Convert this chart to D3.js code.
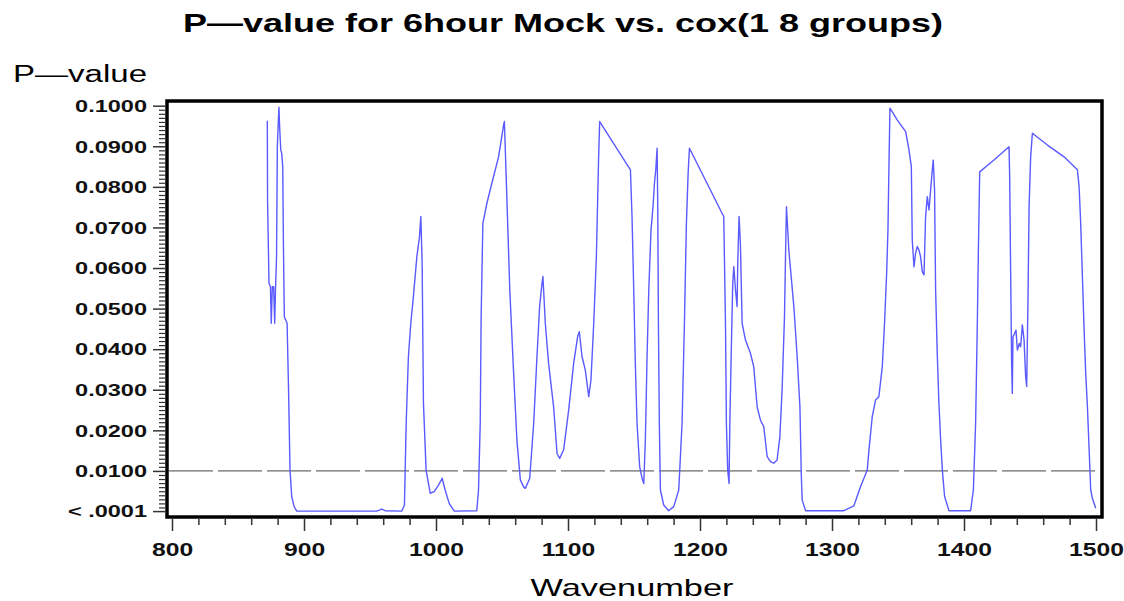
<!DOCTYPE html>
<html>
<head>
<meta charset="utf-8">
<script src="https://cdn.jsdelivr.net/npm/d3@7"></script>
<style>
  body { margin: 0; background: #fff; }
  svg { display: block; font-family: "Liberation Sans", Arial, sans-serif; }
</style>
</head>
<body>
<svg id="chart" width="1124" height="601"></svg>
<script>
// P-value trace (wavenumber, p-value)
const wavenumbers = [
  872.2, 872.4, 873.0, 873.5, 874.6, 875.2, 876.0, 877.0, 877.8, 878.4, 879.2, 879.8, 881.0, 881.6, 882.4, 883.1, 883.9, 884.4, 885.1, 887.2,
  888.2, 889.4, 890.7, 892.5, 894.5, 955.1, 958.9, 961.4, 974.1, 976.1, 977.4, 979.1, 980.9, 982.9, 985.5, 987.5, 988.5, 989.5, 990.5, 992.5,
  995.6, 998.6, 1001.9, 1004.7, 1006.9, 1010.0, 1013.8, 1030.9, 1032.2, 1033.5, 1034.2, 1035.5, 1038.5, 1042.3, 1047.4, 1051.2, 1051.8,
  1053.5, 1055.9, 1058.8, 1061.3, 1063.9, 1066.5, 1067.7, 1071.0, 1074.0, 1076.5, 1078.5, 1080.3, 1081.0, 1082.8, 1085.3, 1089.1, 1091.7,
  1093.7, 1096.7, 1100.5, 1104.3, 1107.3, 1108.6, 1110.6, 1113.1, 1115.7, 1117.4, 1119.5, 1121.5, 1123.2, 1124.0, 1147.3, 1148.5, 1149.8,
  1151.0, 1152.3, 1154.3, 1156.1, 1157.4, 1158.6, 1159.9, 1161.2, 1162.9, 1164.4, 1165.5, 1166.5, 1167.5, 1168.0, 1168.5, 1169.2, 1170.0,
  1172.5, 1176.3, 1180.1, 1183.9, 1186.4, 1188.2, 1189.7, 1191.0, 1192.0, 1216.7, 1218.0, 1219.3, 1220.0, 1221.0, 1222.0, 1222.6, 1223.6,
  1224.8, 1225.6, 1226.9, 1228.1, 1228.6, 1229.6, 1230.6, 1231.9, 1234.4, 1238.2, 1240.7, 1243.3, 1245.8, 1248.3, 1250.9, 1253.4, 1255.9,
  1258.4, 1260.5, 1262.2, 1264.0, 1265.0, 1265.5, 1267.3, 1271.1, 1273.6, 1275.7, 1276.7, 1277.4, 1280.0, 1309.0, 1316.6, 1321.6, 1326.7,
  1328.0, 1330.5, 1333.0, 1335.5, 1338.1, 1339.8, 1341.4, 1342.4, 1343.1, 1343.9, 1349.4, 1355.8, 1358.3, 1360.1, 1360.8, 1362.1, 1363.3,
  1364.6, 1365.9, 1367.1, 1368.4, 1369.7, 1370.9, 1372.2, 1373.5, 1374.7, 1376.0, 1376.7, 1377.7, 1378.5, 1379.8, 1381.0, 1382.3, 1383.6,
  1385.3, 1388.6, 1405.0, 1407.1, 1408.8, 1410.1, 1410.9, 1411.9, 1422.7, 1434.1, 1434.6, 1435.4, 1436.1, 1436.6, 1437.1, 1438.4, 1439.4,
  1440.4, 1441.9, 1442.9, 1444.2, 1445.5, 1446.7, 1447.5, 1448.5, 1449.3, 1450.5, 1451.8, 1463.2, 1475.8, 1485.9, 1487.2, 1488.4, 1489.7,
  1491.0, 1492.2, 1493.5, 1494.8, 1496.0, 1497.3, 1499.8
];
const pValues = [
  0.0963, 0.0764, 0.0653, 0.0562, 0.0554, 0.0464, 0.0554, 0.0554, 0.0464, 0.0546, 0.0628, 0.0899, 0.0996, 0.0944, 0.0891, 0.0883, 0.0850, 0.0661, 0.0480, 0.0464,
  0.0316, 0.0102, 0.0037, 0.0012, 0.0001, 0.0001, 0.0006, 0.0002, 0.0001, 0.0016, 0.0217, 0.0382, 0.0464, 0.0530, 0.0628, 0.0677, 0.0727, 0.0612, 0.0267, 0.0102,
  0.0045, 0.0049, 0.0065, 0.0082, 0.0053, 0.0020, 0.0001, 0.0002, 0.0053, 0.0217, 0.0480, 0.0710, 0.0759, 0.0809, 0.0874, 0.0952, 0.0961,
  0.0792, 0.0546, 0.0341, 0.0176, 0.0078, 0.0060, 0.0057, 0.0082, 0.0217, 0.0382, 0.0505, 0.0562, 0.0579, 0.0464, 0.0365, 0.0258, 0.0143,
  0.0131, 0.0152, 0.0250, 0.0365, 0.0431, 0.0443, 0.0382, 0.0349, 0.0283, 0.0324, 0.0464, 0.0628, 0.0874, 0.0961, 0.0842, 0.0727, 0.0546,
  0.0365, 0.0217, 0.0110, 0.0082, 0.0069, 0.0176, 0.0382, 0.0546, 0.0694, 0.0751, 0.0809, 0.0842, 0.0895, 0.0751, 0.0464, 0.0217, 0.0053,
  0.0016, 0.0002, 0.0012, 0.0053, 0.0217, 0.0464, 0.0710, 0.0833, 0.0895, 0.0735, 0.0727, 0.0464, 0.0217, 0.0102, 0.0069, 0.0217, 0.0382,
  0.0562, 0.0603, 0.0546, 0.0505, 0.0612, 0.0727, 0.0661, 0.0464, 0.0423, 0.0390, 0.0357, 0.0258, 0.0225, 0.0209, 0.0135, 0.0123, 0.0119,
  0.0127, 0.0184, 0.0300, 0.0480, 0.0669, 0.0751, 0.0644, 0.0505, 0.0382, 0.0258, 0.0094, 0.0028, 0.0002, 0.0002, 0.0014, 0.0061, 0.0102,
  0.0152, 0.0234, 0.0275, 0.0283, 0.0357, 0.0464, 0.0587, 0.0694, 0.0842, 0.0994, 0.0965, 0.0936, 0.0891, 0.0850, 0.0669, 0.0603, 0.0636,
  0.0653, 0.0644, 0.0628, 0.0591, 0.0583, 0.0727, 0.0776, 0.0743, 0.0792, 0.0842, 0.0866, 0.0792, 0.0546, 0.0382, 0.0267, 0.0176, 0.0102,
  0.0037, 0.0002, 0.0002, 0.0053, 0.0217, 0.0464, 0.0644, 0.0837, 0.0866, 0.0899, 0.0825, 0.0570, 0.0365, 0.0291, 0.0431, 0.0439, 0.0447,
  0.0398, 0.0414, 0.0406, 0.0460, 0.0423, 0.0332, 0.0308, 0.0530, 0.0751, 0.0874, 0.0932, 0.0903, 0.0874, 0.0842, 0.0801, 0.0710, 0.0579,
  0.0447, 0.0341, 0.0258, 0.0152, 0.0053, 0.0032, 0.0008
];

// axis ticks
const xTicks = [800, 900, 1000, 1100, 1200, 1300, 1400, 1500];
const yTicks = [0.0001, 0.01, 0.02, 0.03, 0.04, 0.05, 0.06, 0.07, 0.08, 0.09, 0.10];
const yTickLabels = ["< .0001", "0.0100", "0.0200", "0.0300", "0.0400", "0.0500", "0.0600", "0.0700", "0.0800", "0.0900", "0.1000"];
const cutoff = 0.01;

const svg = d3.select("#chart");

// frame of the plot area
const frame = { left: 167, top: 101, right: 1102, bottom: 517 };

const x = d3.scaleLinear().domain([800, 1500]).range([172, 1096]);
const y = d3.scaleLinear().domain([0, 0.1]).range([511.5, 105.7]);

// stretch text horizontally (the original font is a wide one)
function stretch(sel, factor) {
  sel.each(function() {
    const w = this.getComputedTextLength();
    d3.select(this).attr("textLength", w * factor).attr("lengthAdjust", "spacingAndGlyphs");
  });
}

// title
svg.append("text")
  .attr("x", 183).attr("y", 32)
  .attr("font-size", 25).attr("font-weight", "bold")
  .attr("textLength", 760).attr("lengthAdjust", "spacingAndGlyphs")
  .text("P\u2014value for 6hour Mock vs. cox(1 8 groups)");

// y axis title
svg.append("text")
  .attr("x", 13).attr("y", 82)
  .attr("font-size", 23)
  .attr("textLength", 134).attr("lengthAdjust", "spacingAndGlyphs")
  .text("P\u2014value");

// x axis title
svg.append("text")
  .attr("x", 632).attr("y", 596)
  .attr("text-anchor", "middle")
  .attr("font-size", 24)
  .attr("textLength", 203).attr("lengthAdjust", "spacingAndGlyphs")
  .text("Wavenumber");

// minor ticks
const yMinor = d3.range(1, 100).map(d => d / 1000).filter(d => d % 0.01 > 0.0005 && d % 0.01 < 0.0095);
svg.append("g")
  .attr("transform", `translate(${frame.left - 2},0)`)
  .call(d3.axisLeft(y).tickValues(yMinor).tickSize(6).tickFormat(""))
  .call(g => g.select(".domain").remove())
  .call(g => g.selectAll("line").attr("stroke", "#333").attr("stroke-width", 1.2));

const xMinor = d3.range(800, 1501, 20).filter(d => d % 100 !== 0);
svg.append("g")
  .attr("transform", `translate(0,${frame.bottom + 2})`)
  .call(d3.axisBottom(x).tickValues(xMinor).tickSize(6).tickFormat(""))
  .call(g => g.select(".domain").remove())
  .call(g => g.selectAll("line").attr("stroke", "#333").attr("stroke-width", 1.5));

// major ticks + labels
const yAxis = svg.append("g")
  .attr("transform", `translate(${frame.left - 2},0)`)
  .call(d3.axisLeft(y).tickValues(yTicks).tickSize(12).tickPadding(6)
    .tickFormat((d, i) => yTickLabels[i]));
yAxis.select(".domain").remove();
yAxis.selectAll("line").attr("stroke", "#333").attr("stroke-width", 1.5);
yAxis.selectAll("text")
  .attr("font-family", "Liberation Sans, Arial, sans-serif")
  .attr("font-size", 16).attr("font-weight", "bold").attr("fill", "#111")
  .attr("dy", "0.36em")
  .call(stretch, 1.47);

const xAxis = svg.append("g")
  .attr("transform", `translate(0,${frame.bottom + 2})`)
  .call(d3.axisBottom(x).tickValues(xTicks).tickSize(12).tickPadding(12).tickFormat(d3.format("d")));
xAxis.select(".domain").remove();
xAxis.selectAll("line").attr("stroke", "#333").attr("stroke-width", 1.5);
xAxis.selectAll("text")
  .attr("font-family", "Liberation Sans, Arial, sans-serif")
  .attr("font-size", 19).attr("font-weight", "bold").attr("fill", "#111")
  .call(stretch, 1.3);

// 0.01 reference line
svg.append("line")
  .attr("x1", frame.left + 2).attr("x2", frame.right - 2)
  .attr("y1", y(cutoff)).attr("y2", y(cutoff))
  .attr("stroke", "#444").attr("stroke-width", 1)
  .attr("stroke-dasharray", "44,5");

// the p-value trace
const points = wavenumbers.map((w, i) => [w, pValues[i]]);
svg.append("path")
  .datum(points)
  .attr("fill", "none")
  .attr("stroke", "#5a5aff")
  .attr("stroke-width", 1.4)
  .attr("stroke-linejoin", "round")
  .attr("d", d3.line().x(d => x(d[0])).y(d => y(d[1])));

// frame
svg.append("rect")
  .attr("x", frame.left).attr("y", frame.top)
  .attr("width", frame.right - frame.left).attr("height", frame.bottom - frame.top)
  .attr("fill", "none").attr("stroke", "#000").attr("stroke-width", 3.5);
</script>
</body>
</html>
